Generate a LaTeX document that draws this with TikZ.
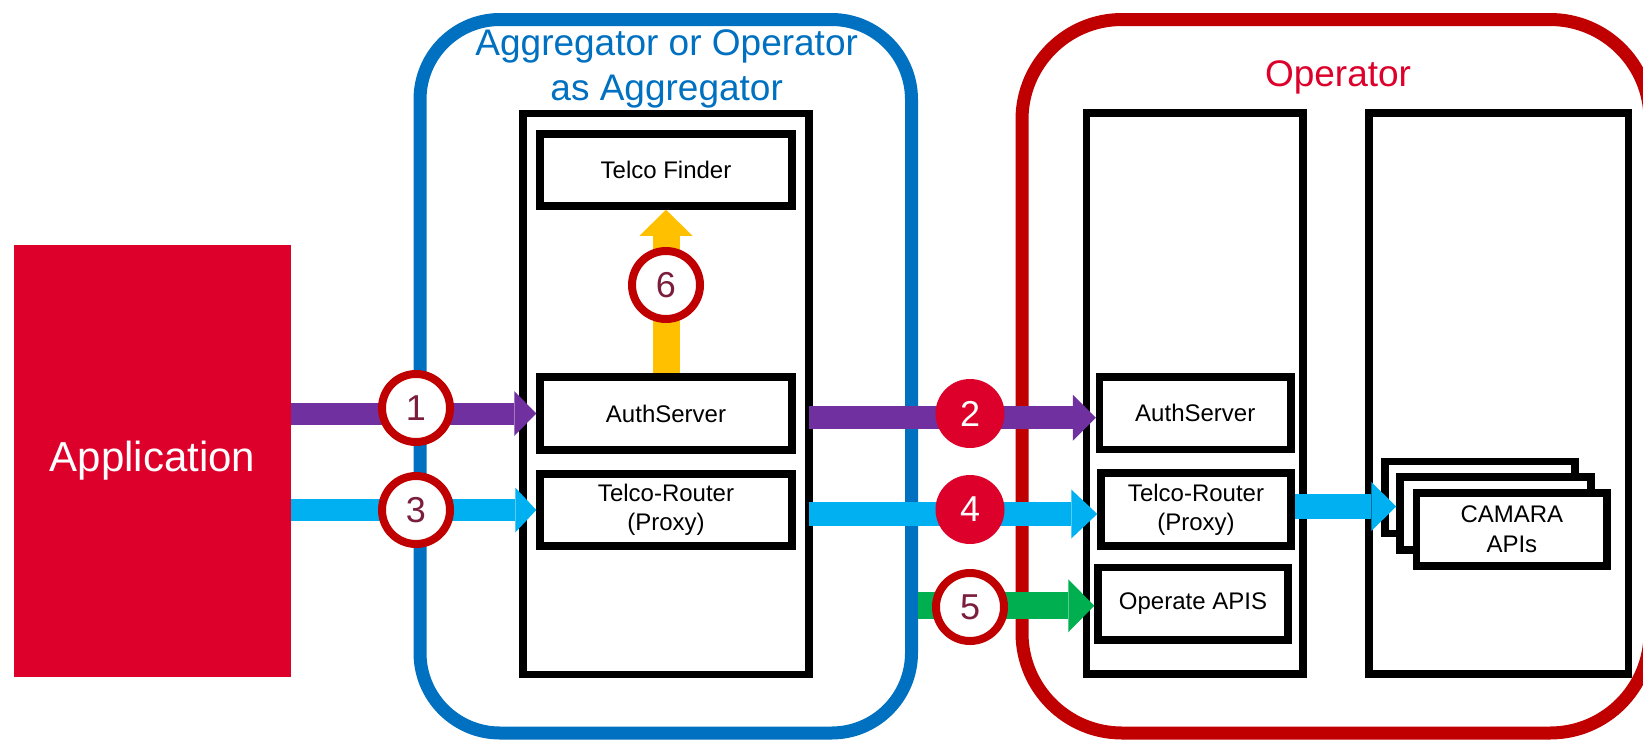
\documentclass[tikz,border=0pt]{standalone}
\usepackage{fontspec}
\setmainfont{Liberation Sans}
\usetikzlibrary{arrows.meta,calc}
\definecolor{appred}{HTML}{DC002B}
\definecolor{ringred}{HTML}{C00000}
\definecolor{numred}{HTML}{7A1E3C}
\definecolor{aggblue}{HTML}{0070C0}
\definecolor{flowpurple}{HTML}{7030A0}
\definecolor{flowcyan}{HTML}{00B0F0}
\definecolor{flowgreen}{HTML}{00B050}
\definecolor{flowyellow}{HTML}{FFC000}
\tikzset{
  container/.style={draw=#1, line width=13pt, rectangle, inner sep=0pt},
  colbox/.style={draw=black, line width=7.5pt, fill=white, rectangle, outer sep=0pt, inner sep=0pt},
  box/.style={draw=black, line width=7.5pt, fill=white, rectangle, inner sep=0pt,
    align=center, font=\fontsize{24}{29}\selectfont},
  ring/.style={circle, draw=ringred, line width=8pt, fill=white, minimum size=68pt,
    inner sep=0pt, text=numred, font=\fontsize{36}{36}\selectfont},
  dotnum/.style={circle, fill=appred, minimum size=69pt, inner sep=0pt,
    text=white, font=\fontsize{36}{36}\selectfont},
  flow/.style n args={3}{line width=#1, -{Triangle[width=#2,length=#3,line width=0pt]}},
  titletext/.style={anchor=base, inner sep=0pt, font=\fontsize{37}{45}\selectfont}
}
\begin{document}
\begin{tikzpicture}[x=1pt,y=-1pt]
\useasboundingbox (0,0) rectangle (1643,739);

% containers
\node[container=aggblue, rounded corners=80pt, minimum width=491.5pt, minimum height=713.5pt] (aggbox) at (665.75,376.25) {};
\node[container=ringred, rounded corners=100pt, minimum width=628pt, minimum height=713.5pt] (opbox) at (1336,376.25) {};

\node[titletext, text=aggblue] (aggtitleA) at (666.7,55) {Aggregator or Operator};
\node[titletext, text=aggblue] (aggtitleB) at (666.7,100) {as Aggregator};
\node[titletext, text=appred] (optitle) at (1338,86) {Operator};

% application
\node[rectangle, fill=appred, minimum width=277pt, minimum height=432pt, inner sep=0pt,
  text=white, font=\fontsize{42}{42}\selectfont] (app) at (152.5,461) {Application};

% columns
\node[colbox, minimum width=286pt, minimum height=561pt] (aggcol) at (666,394) {};
\node[colbox, minimum width=216.5pt, minimum height=561pt] (opcol) at (1194.75,393.5) {};
\node[colbox, minimum width=259.6pt, minimum height=561pt] (apicol) at (1498.8,393.5) {};

% aggregator boxes
\node[box, minimum width=252pt, minimum height=72pt] (finder) at (666,170) {Telco Finder};
\node[box, minimum width=252pt, minimum height=73pt] (authA) at (666,413.5) {AuthServer};
\node[box, minimum width=252pt, minimum height=72pt] (telcoA) at (666,510) {Telco-Router\\(Proxy)};

% operator boxes
\node[box, minimum width=191.5pt, minimum height=72.5pt] (authO) at (1195.25,413.25) {AuthServer};
\node[box, minimum width=190pt, minimum height=73pt] (telcoO) at (1196,509.5) {Telco-Router\\(Proxy)};
\node[box, minimum width=190pt, minimum height=72.5pt] (operate) at (1193,603.75) {Operate APIS};

% CAMARA stack
\node[box, minimum width=190pt, minimum height=72pt] (camBack) at (1480,497.5) {};
\node[box, minimum width=191pt, minimum height=73pt] (camMid) at (1495.5,513.5) {};
\node[box, minimum width=190.3pt, minimum height=73pt, font=\fontsize{24}{30}\selectfont] (camFront) at (1511.85,529.5) {CAMARA\\APIs};

% flows
\draw[flow={22pt}{45pt}{22pt}, draw=flowpurple] (app.east |- authA.west) -- (authA.west);
\draw[flow={22.6pt}{46pt}{23pt}, draw=flowpurple] ($(aggcol.east |- authO.west)+(0,4.5)$) -- ($(authO.west)+(0,4.5)$);
\draw[flow={22pt}{45pt}{21pt}, draw=flowcyan] (app.east |- telcoA.west) -- (telcoA.west);
\draw[flow={24pt}{49pt}{26pt}, draw=flowcyan] ($(aggcol.east |- telcoO.west)+(0,4.5)$) -- ($(telcoO.west)+(0,4.5)$);
\draw[flow={27pt}{53pt}{26pt}, draw=flowgreen] ($(aggbox.east |- operate.west)+(0,2)$) -- ($(operate.west)+(0,2)$);
\draw[flow={27pt}{53pt}{26pt}, draw=flowyellow] (authA.north) -- (finder.south);
\draw[flow={25pt}{49pt}{25pt}, draw=flowcyan] ($(telcoO.east)+(0,-3)$) -- ($(camMid.west |- telcoO.east)+(0,-3)$);

% step numbers
\node[ring] (n1) at (416,408) {1};
\node[dotnum] (n2) at (970,413.5) {2};
\node[ring] (n3) at (416,510) {3};
\node[dotnum] (n4) at (970,509.5) {4};
\node[ring] (n5) at (970,607) {5};
\node[ring] (n6) at (666,285) {6};
\end{tikzpicture}
\end{document}
